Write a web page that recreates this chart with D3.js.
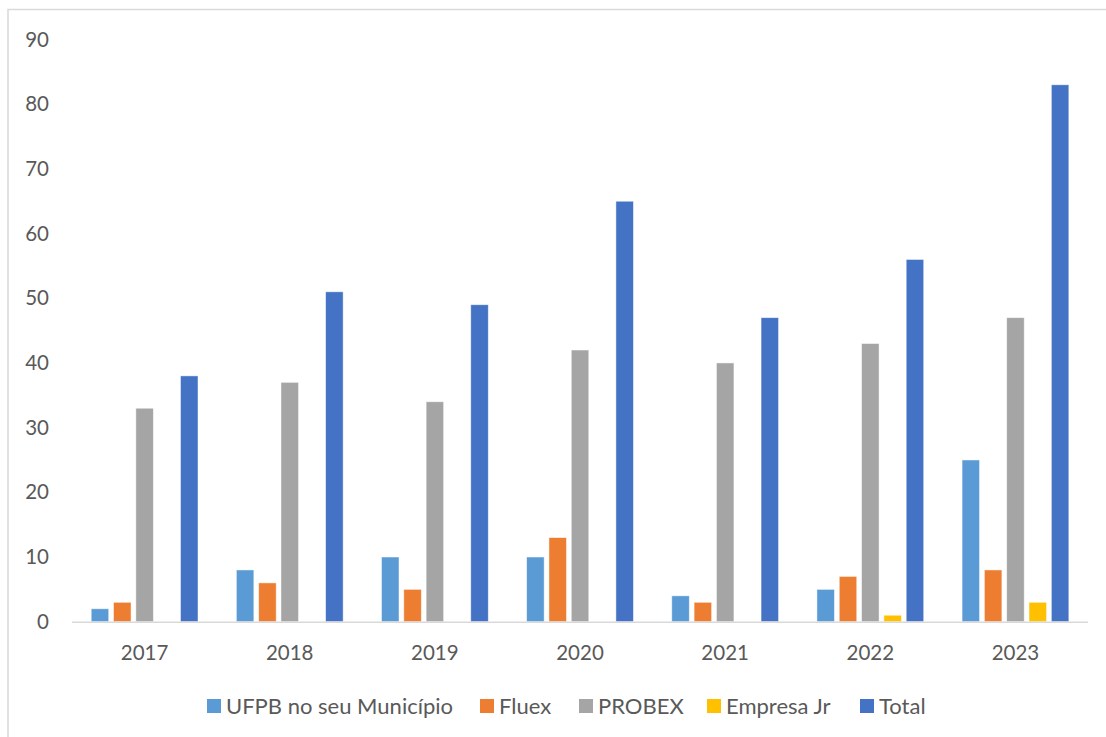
<!DOCTYPE html>
<html>
<head>
<meta charset="utf-8">
<script src="https://cdn.jsdelivr.net/npm/d3@7"></script>
<style>
  body { margin: 0; background: #fff; }
  svg { display: block; }
</style>
</head>
<body>
<svg width="1106" height="737"></svg>
<script>
// chart data
var years = ["2017", "2018", "2019", "2020", "2021", "2022", "2023"];
var seriesNames = ["UFPB no seu Município", "Fluex", "PROBEX", "Empresa Jr", "Total"];
var ufpb = [2, 8, 10, 10, 4, 5, 25];
var fluex = [3, 6, 5, 13, 3, 7, 8];
var probex = [33, 37, 34, 42, 40, 43, 47];
var empresaJr = [0, 0, 0, 0, 0, 1, 3];
var total = [38, 51, 49, 65, 47, 56, 83];
var yTicks = [0, 10, 20, 30, 40, 50, 60, 70, 80, 90];

var colors = ["#5b9bd5", "#ed7d31", "#a5a5a5", "#ffc000", "#4472c4"];
var allSeries = [ufpb, fluex, probex, empresaJr, total];

var svg = d3.select("svg");
var font = "Lato, 'Open Sans', sans-serif";

// outer chart border (only top and left show in the picture)
svg.append("rect")
  .attr("x", 8).attr("y", 9.5)
  .attr("width", 1110).attr("height", 740)
  .attr("fill", "none")
  .attr("stroke", "#d9d9d9")
  .attr("stroke-width", 1.5);

var plotLeft = 72, plotRight = 1088, plotTop = 39.5, plotBottom = 621.7;

var x0 = d3.scaleBand().domain(years).range([plotLeft, plotRight]).padding(0);
var x1 = d3.scaleBand().domain(seriesNames)
  .range([19.2, 126]).paddingInner(0.215).paddingOuter(0);
var y = d3.scaleLinear().domain([0, 90]).range([plotBottom, plotTop]);

// y tick labels
svg.append("g")
  .selectAll("text")
  .data(yTicks)
  .enter()
  .append("text")
    .attr("x", 49)
    .attr("y", function (d) { return y(d); })
    .attr("dy", "0.35em")
    .attr("text-anchor", "end")
    .attr("font-family", font)
    .attr("font-size", "20.5px")
    .attr("fill", "#595959")
    .text(function (d) { return d; });

// bars
var groups = svg.append("g")
  .selectAll("g")
  .data(years)
  .enter()
  .append("g")
    .attr("transform", function (d) { return "translate(" + x0(d) + ",0)"; });

groups.selectAll("rect")
  .data(function (d, i) {
    return seriesNames.map(function (s, j) {
      return { name: s, value: allSeries[j][i], color: colors[j] };
    });
  })
  .enter()
  .append("rect")
    .attr("x", function (d) { return x1(d.name); })
    .attr("y", function (d) { return y(d.value); })
    .attr("width", x1.bandwidth())
    .attr("height", function (d) { return plotBottom - y(d.value); })
    .attr("fill", function (d) { return d.color; })
    .attr("stroke", "#fff")
    .attr("stroke-opacity", 0.6)
    .attr("stroke-width", 0.8);

// x axis line
svg.append("line")
  .attr("x1", plotLeft).attr("x2", plotRight)
  .attr("y1", plotBottom + 0.5).attr("y2", plotBottom + 0.5)
  .attr("stroke", "#d9d9d9")
  .attr("stroke-width", 1.5);

// x tick labels
svg.append("g")
  .selectAll("text")
  .data(years)
  .enter()
  .append("text")
    .attr("x", function (d) { return x0(d) + x0.bandwidth() / 2; })
    .attr("y", 653)
    .attr("dy", "0.35em")
    .attr("text-anchor", "middle")
    .attr("font-family", font)
    .attr("font-size", "20.5px")
    .attr("fill", "#595959")
    .text(function (d) { return d; });

// legend
var legendX = [207, 480, 579, 707, 860];
var legend = svg.append("g")
  .selectAll("g")
  .data(seriesNames)
  .enter()
  .append("g")
    .attr("transform", function (d, i) { return "translate(" + legendX[i] + ",699)"; });

legend.append("rect")
  .attr("width", 14).attr("height", 14)
  .attr("fill", function (d, i) { return colors[i]; });

legend.append("text")
  .attr("x", 19)
  .attr("y", 7)
  .attr("dy", "0.35em")
  .attr("font-family", font)
  .attr("font-size", "22px")
  .attr("fill", "#595959")
  .text(function (d) { return d; });
</script>
</body>
</html>
